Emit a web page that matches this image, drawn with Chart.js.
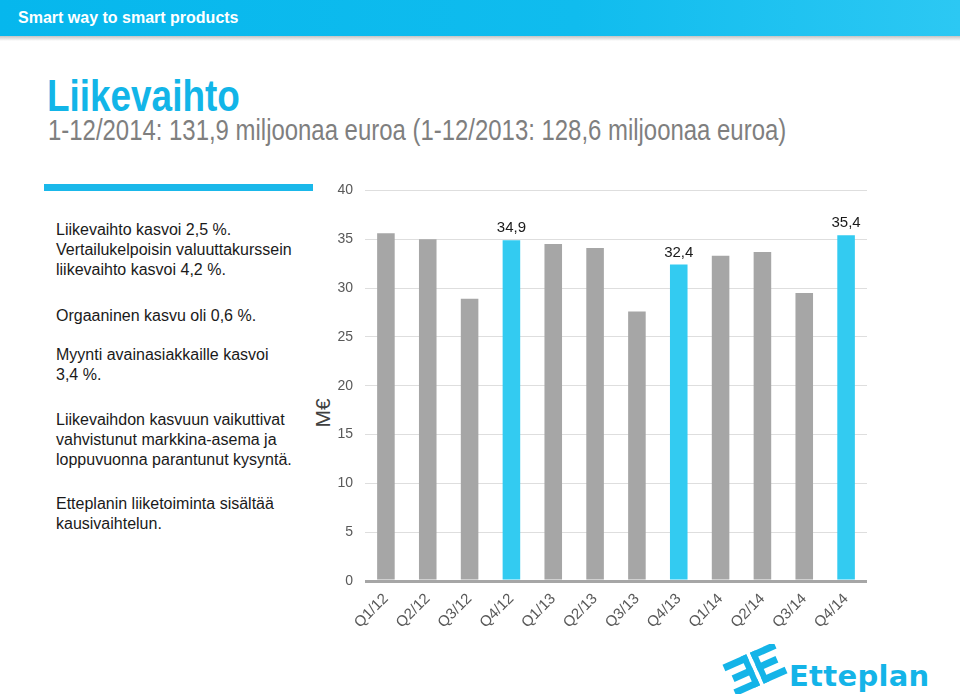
<!DOCTYPE html>
<html lang="fi">
<head>
<meta charset="utf-8">
<title>Liikevaihto</title>
<script src="https://cdn.jsdelivr.net/npm/chart.js@4.4.1/dist/chart.umd.min.js"></script>
<style>
  html, body { margin: 0; padding: 0; background: #fff; }
  body { width: 960px; height: 697px; position: relative; overflow: hidden; font-family: "Liberation Sans", Arial, sans-serif; }
  .topbar { position: absolute; left: 0; top: 0; width: 960px; height: 36px;
    background: linear-gradient(90deg, #06b7ed 0%, #10bcee 60%, #2cc8f3 100%); }
  .topbar span { position: absolute; left: 18px; top: 9px; color: #fff; font-weight: bold; font-size: 16px; }
  .shadow { position: absolute; left: 0; top: 36px; width: 960px; height: 5px;
    background: linear-gradient(180deg, #c4c4c4, #fff); }
  h1 { position: absolute; left: 47px; top: 71px; margin: 0; font-weight: bold; font-size: 45px; color: #12b5e8;
    line-height: 50px; transform: scaleX(0.82); transform-origin: 0 0; white-space: nowrap; }
  .sub { position: absolute; left: 48px; top: 113px; font-size: 29px; color: #7f7f7f; line-height: 34px; white-space: nowrap;
    transform: scaleX(0.825); transform-origin: 0 0; }
  .rule { position: absolute; left: 44px; top: 184px; width: 269px; height: 7px; background: #1ab8ea; }
  .para { position: absolute; left: 56px; font-size: 16px; line-height: 20px; color: #1a1a1a; white-space: nowrap; }
  .unit { position: absolute; left: 303px; top: 400px; width: 40px; height: 26px; line-height: 26px; text-align: center;
    font-size: 21px; color: #404040; transform: rotate(-90deg); }
  #chart { position: absolute; left: 300px; top: 170px; }
  .logo { position: absolute; left: 722px; top: 644px; }
  .logotext { position: absolute; left: 789px; top: 659px; font-family: "DejaVu Sans", sans-serif; font-weight: bold;
    font-size: 29px; color: #14b4e8; letter-spacing: 0.3px; line-height: 34px; }
</style>
</head>
<body>
<div class="topbar"><span>Smart way to smart products</span></div>
<div class="shadow"></div>

<h1>Liikevaihto</h1>
<div class="sub">1-12/2014: 131,9 miljoonaa euroa (1-12/2013: 128,6 miljoonaa euroa)</div>

<div class="rule"></div>
<div class="para" style="top:220px">Liikevaihto kasvoi 2,5 %.<br>Vertailukelpoisin valuuttakurssein<br>liikevaihto kasvoi 4,2 %.</div>
<div class="para" style="top:306px">Orgaaninen kasvu oli 0,6 %.</div>
<div class="para" style="top:345px">Myynti avainasiakkaille kasvoi<br>3,4 %.</div>
<div class="para" style="top:410px">Liikevaihdon kasvuun vaikuttivat<br>vahvistunut markkina-asema ja<br>loppuvuonna parantunut kysyntä.</div>
<div class="para" style="top:494px">Etteplanin liiketoiminta sisältää<br>kausivaihtelun.</div>

<div class="unit">M€</div>
<canvas id="chart" width="580" height="470"></canvas>

<svg class="logo" width="66" height="50" viewBox="0 0 66 50">
  <g fill="#14b4e8" transform="translate(33 25) rotate(-24) translate(-28 -17)">
    <rect x="0" y="0" width="26" height="7"/>
    <rect x="4" y="13.5" width="22" height="7"/>
    <rect x="0" y="27" width="26" height="7"/>
    <rect x="20" y="0" width="6" height="34"/>
    <rect x="30" y="0" width="6" height="34"/>
    <rect x="30" y="0" width="26" height="7"/>
    <rect x="30" y="13.5" width="22" height="7"/>
    <rect x="30" y="27" width="26" height="7"/>
  </g>
</svg>
<div class="logotext">Etteplan</div>

<script>
  // --- data ---
  const quarters = ["Q1/12", "Q2/12", "Q3/12", "Q4/12", "Q1/13", "Q2/13", "Q3/13", "Q4/13", "Q1/14", "Q2/14", "Q3/14", "Q4/14"];
  const revenue = [35.6, 35.0, 28.9, 34.9, 34.5, 34.1, 27.6, 32.4, 33.3, 33.7, 29.5, 35.4];
  const highlighted = [false, false, false, true, false, false, false, true, false, false, false, true];
  const yMin = 0;
  const yMax = 40;
  const yStep = 5;

  // --- helpers ---
  const GREY = "#a6a6a6";
  const CYAN = "#33cbf1";
  const fmt = (v) => v.toFixed(1).replace(".", ",");

  // labels above the highlighted bars
  const valueLabels = {
    id: "valueLabels",
    afterDatasetsDraw(chart) {
      const ctx = chart.ctx;
      const meta = chart.getDatasetMeta(0);
      ctx.save();
      ctx.font = '15px "Liberation Sans", Arial, sans-serif';
      ctx.fillStyle = "#1a1a1a";
      ctx.textAlign = "center";
      ctx.textBaseline = "alphabetic";
      meta.data.forEach((bar, i) => {
        if (!highlighted[i]) return;
        ctx.fillText(fmt(revenue[i]), bar.x, bar.y - 8);
      });
      ctx.restore();
    },
  };

  new Chart(document.getElementById("chart"), {
    type: "bar",
    data: {
      labels: quarters,
      datasets: [
        {
          data: revenue,
          backgroundColor: highlighted.map((h) => (h ? CYAN : GREY)),
          barPercentage: 0.42,
          categoryPercentage: 1,
        },
      ],
    },
    options: {
      responsive: false,
      animation: false,
      layout: { padding: { top: 18, right: 13, left: 0, bottom: 0 } },
      plugins: {
        legend: { display: false },
        tooltip: { enabled: false },
      },
      scales: {
        x: {
          grid: { display: false },
          border: { display: false },
          ticks: {
            color: "#595959",
            font: { family: '"Liberation Sans", Arial, sans-serif', size: 15 },
            minRotation: 45,
            maxRotation: 45,
            padding: 1,
          },
          afterFit: (s) => { s.height = 59; },
        },
        y: {
          min: yMin,
          max: yMax,
          ticks: {
            stepSize: yStep,
            color: "#595959",
            font: { family: '"Liberation Sans", Arial, sans-serif', size: 14 },
            padding: 12,
          },
          grid: {
            drawTicks: false,
            color: (c) => (c.tick && c.tick.value === 0 ? "#a6a6a6" : "#dedede"),
            lineWidth: (c) => (c.tick && c.tick.value === 0 ? 3 : 1),
          },
          border: { display: false },
          afterFit: (s) => { s.width = 65; },
        },
      },
    },
    plugins: [valueLabels],
  });
</script>
</body>
</html>
